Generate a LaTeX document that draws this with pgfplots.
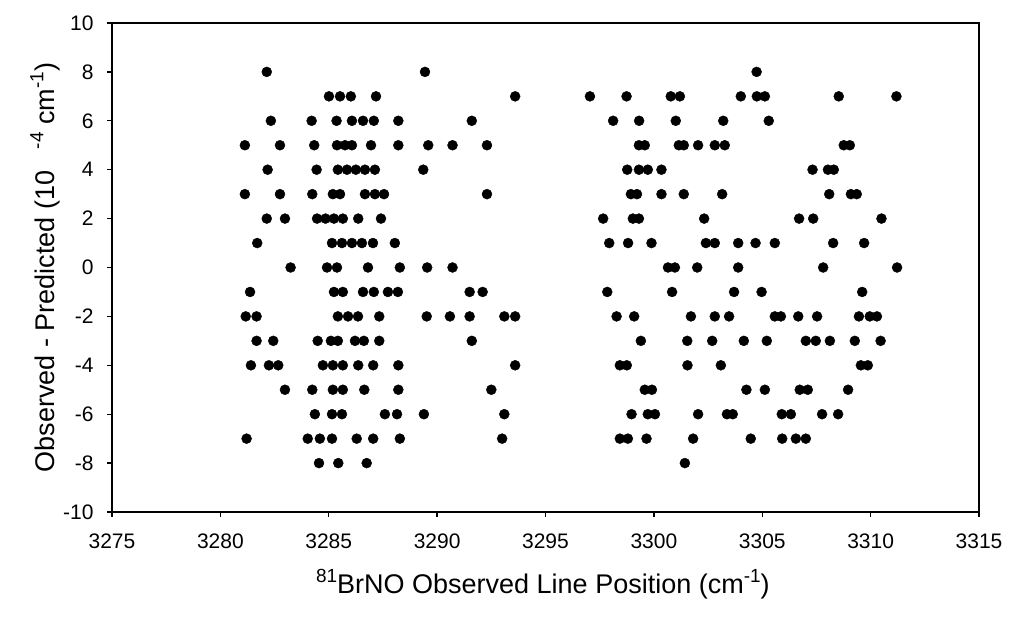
\documentclass[border=0pt]{standalone}
\usepackage{pgfplots}
\pgfplotsset{compat=1.18}
\usepackage{fontspec}
\setmainfont{Liberation Sans}
\newcommand{\sups}[1]{\raisebox{0.42em}{\fontsize{19}{19}\selectfont #1}}
\begin{document}
\begin{tikzpicture}
\begin{axis}[
  scale only axis, width=867pt, height=489pt,
  xmin=3275, xmax=3315, ymin=-10, ymax=10,
  xtick={3275,3280,...,3315}, ytick={-10,-8,...,10},
  tick align=outside, tick pos=left, major tick length=5pt,
  axis line style={line width=1.3pt},
  every tick/.style={line width=1.3pt, black},
  ticklabel style={font=\fontsize{21}{24}\selectfont},
  xticklabel style={yshift=-13pt},
  yticklabel style={xshift=-10pt},
  /pgf/number format/assume math mode=true,
  /pgf/number format/1000 sep={},
  xlabel={\sups{81}BrNO Observed Line Position (cm\sups{-1})},
  ylabel={Observed - Predicted (10\hspace{0.8em}\sups{-4} cm\sups{-1})},
  every axis x label/.style={at={(axis description cs:0.497,-0.147)}, anchor=center, font=\fontsize{27}{30}\selectfont},
  every axis y label/.style={at={(axis description cs:-0.077,0.5)}, anchor=center, rotate=90, font=\fontsize{27}{30}\selectfont},
  clip=false,
]
\addplot[only marks, mark=*, mark size=5pt, black] table[row sep=\\] {
x y\\
3282.14 8\\ 3289.44 8\\ 3304.74 8\\
3285.01 7\\ 3285.52 7\\ 3286.02 7\\ 3287.18 7\\ 3293.6 7\\ 3297.05 7\\ 3298.74 7\\ 3300.78 7\\ 3301.20 7\\ 3304.01 7\\ 3304.75 7\\ 3305.12 7\\ 3308.53 7\\ 3311.19 7\\
3282.33 6\\ 3284.21 6\\ 3285.36 6\\ 3286.07 6\\ 3286.58 6\\ 3287.08 6\\ 3288.21 6\\ 3291.6 6\\ 3298.12 6\\ 3299.32 6\\ 3301.01 6\\ 3303.20 6\\ 3305.30 6\\
3281.13 5\\ 3282.75 5\\ 3284.33 5\\ 3285.38 5\\ 3285.75 5\\ 3286.07 5\\ 3286.95 5\\ 3288.21 5\\ 3289.59 5\\ 3290.71 5\\ 3292.3 5\\ 3299.31 5\\ 3299.58 5\\ 3301.15 5\\ 3301.38 5\\ 3302.04 5\\ 3302.81 5\\ 3303.27 5\\ 3308.76 5\\ 3309.04 5\\
3282.18 4\\ 3284.44 4\\ 3285.42 4\\ 3285.84 4\\ 3286.25 4\\ 3286.67 4\\ 3287.13 4\\ 3289.36 4\\ 3298.77 4\\ 3299.31 4\\ 3299.72 4\\ 3300.35 4\\ 3307.32 4\\ 3308.03 4\\ 3308.30 4\\
3281.13 3\\ 3282.75 3\\ 3284.24 3\\ 3285.19 3\\ 3285.52 3\\ 3286.67 3\\ 3287.13 3\\ 3287.55 3\\ 3292.3 3\\ 3298.94 3\\ 3299.22 3\\ 3300.35 3\\ 3301.38 3\\ 3303.15 3\\ 3308.09 3\\ 3309.09 3\\ 3309.36 3\\
3282.14 2\\ 3282.98 2\\ 3284.46 2\\ 3284.85 2\\ 3285.24 2\\ 3285.65 2\\ 3286.36 2\\ 3287.41 2\\ 3297.66 2\\ 3299.03 2\\ 3299.31 2\\ 3302.32 2\\ 3306.70 2\\ 3307.35 2\\ 3310.50 2\\
3281.70 1\\ 3285.15 1\\ 3285.61 1\\ 3286.07 1\\ 3286.53 1\\ 3287.04 1\\ 3288.05 1\\ 3297.94 1\\ 3298.81 1\\ 3299.89 1\\ 3302.40 1\\ 3302.81 1\\ 3303.89 1\\ 3304.69 1\\ 3305.58 1\\ 3308.27 1\\ 3309.70 1\\
3283.24 0\\ 3284.92 0\\ 3285.38 0\\ 3286.81 0\\ 3288.28 0\\ 3289.54 0\\ 3290.71 0\\ 3300.65 0\\ 3300.97 0\\ 3302.00 0\\ 3303.89 0\\ 3307.81 0\\ 3311.22 0\\
3281.37 -1\\ 3285.24 -1\\ 3285.65 -1\\ 3286.58 -1\\ 3287.08 -1\\ 3287.73 -1\\ 3288.19 -1\\ 3291.5 -1\\ 3292.1 -1\\ 3297.85 -1\\ 3300.84 -1\\ 3303.70 -1\\ 3304.97 -1\\ 3309.61 -1\\
3281.17 -2\\ 3281.67 -2\\ 3285.42 -2\\ 3285.89 -2\\ 3286.35 -2\\ 3287.33 -2\\ 3289.52 -2\\ 3290.59 -2\\ 3291.5 -2\\ 3293.1 -2\\ 3293.6 -2\\ 3298.28 -2\\ 3299.09 -2\\ 3301.71 -2\\ 3302.81 -2\\ 3303.47 -2\\ 3305.58 -2\\ 3305.86 -2\\ 3306.66 -2\\ 3307.53 -2\\ 3309.46 -2\\ 3309.96 -2\\ 3310.29 -2\\
3281.67 -3\\ 3282.44 -3\\ 3284.49 -3\\ 3285.10 -3\\ 3285.42 -3\\ 3286.21 -3\\ 3286.62 -3\\ 3287.33 -3\\ 3291.6 -3\\ 3299.40 -3\\ 3301.54 -3\\ 3302.69 -3\\ 3304.15 -3\\ 3305.21 -3\\ 3307.01 -3\\ 3307.47 -3\\ 3308.12 -3\\ 3309.27 -3\\ 3310.46 -3\\
3281.41 -4\\ 3282.24 -4\\ 3282.67 -4\\ 3284.73 -4\\ 3285.19 -4\\ 3285.65 -4\\ 3286.36 -4\\ 3287.05 -4\\ 3288.21 -4\\ 3293.6 -4\\ 3298.43 -4\\ 3298.75 -4\\ 3301.55 -4\\ 3303.09 -4\\ 3309.55 -4\\ 3309.87 -4\\
3282.98 -5\\ 3284.24 -5\\ 3285.19 -5\\ 3285.65 -5\\ 3286.64 -5\\ 3288.21 -5\\ 3292.5 -5\\ 3299.58 -5\\ 3299.91 -5\\ 3304.27 -5\\ 3305.12 -5\\ 3306.73 -5\\ 3307.10 -5\\ 3308.96 -5\\
3284.36 -6\\ 3285.15 -6\\ 3285.61 -6\\ 3287.59 -6\\ 3288.15 -6\\ 3289.39 -6\\ 3293.1 -6\\ 3298.97 -6\\ 3299.72 -6\\ 3300.05 -6\\ 3302.04 -6\\ 3303.37 -6\\ 3303.64 -6\\ 3305.90 -6\\ 3306.32 -6\\ 3307.76 -6\\ 3308.50 -6\\
3281.21 -7\\ 3284.03 -7\\ 3284.59 -7\\ 3285.15 -7\\ 3286.29 -7\\ 3287.05 -7\\ 3288.28 -7\\ 3293.0 -7\\ 3298.43 -7\\ 3298.80 -7\\ 3299.66 -7\\ 3301.81 -7\\ 3304.47 -7\\ 3305.92 -7\\ 3306.55 -7\\ 3307.01 -7\\
3284.55 -8\\ 3285.44 -8\\ 3286.75 -8\\ 3301.43 -8\\
};
\coordinate (ll) at (rel axis cs:0,0);
\coordinate (ur) at (rel axis cs:1,1);
\end{axis}
\pgfresetboundingbox
\path[use as bounding box] ([shift={(-112pt,-108pt)}]ll) rectangle ([shift={(30pt,23pt)}]ur);
\end{tikzpicture}
\end{document}
